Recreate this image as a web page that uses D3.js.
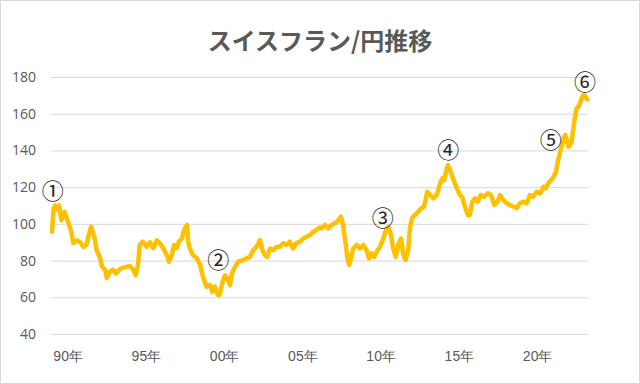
<!DOCTYPE html>
<html>
<head>
<meta charset="utf-8">
<script src="https://cdn.jsdelivr.net/npm/d3@7"></script>
<style>
  body { margin: 0; background: #fff; }
  svg { display: block; font-family: "Noto Sans CJK JP", "Noto Sans", sans-serif; }
</style>
</head>
<body>
<div id="chart"></div>
<script>
// decimal year and CHF/JPY rate
const years = [
  1989.0, 1989.1, 1989.2, 1989.3, 1989.45, 1989.6, 1989.8, 1990.05, 1990.25, 1990.36,
  1990.6, 1990.8, 1991.0, 1991.2, 1991.4, 1991.5, 1991.7, 1991.85, 1992.07, 1992.2,
  1992.4, 1992.5, 1992.7, 1992.9, 1993.1, 1993.3, 1993.5, 1993.8, 1993.98, 1994.2,
  1994.35, 1994.5, 1994.6, 1994.8, 1995.05, 1995.26, 1995.47, 1995.7, 1995.9, 1996.1,
  1996.33, 1996.48, 1996.65, 1996.8, 1996.97, 1997.1, 1997.3, 1997.4, 1997.54, 1997.64,
  1997.7, 1997.8, 1998.0, 1998.25, 1998.46, 1998.67, 1998.88, 1999.1, 1999.24, 1999.4,
  1999.6, 1999.7, 1999.9, 2000.05, 2000.2, 2000.37, 2000.5, 2000.7, 2000.9, 2001.2,
  2001.44, 2001.65, 2001.86, 2002.08, 2002.3, 2002.44, 2002.6, 2002.76, 2002.93, 2003.14,
  2003.36, 2003.57, 2003.78, 2004.0, 2004.2, 2004.4, 2004.6, 2004.85, 2005.06, 2005.27,
  2005.5, 2005.7, 2005.9, 2006.1, 2006.23, 2006.44, 2006.66, 2006.87, 2007.08, 2007.3,
  2007.47, 2007.6, 2007.77, 2007.9, 2008.0, 2008.1, 2008.25, 2008.47, 2008.68, 2008.9,
  2009.1, 2009.26, 2009.43, 2009.6, 2009.8, 2009.96, 2010.17, 2010.3, 2010.5, 2010.66,
  2010.8, 2010.96, 2011.13, 2011.3, 2011.45, 2011.6, 2011.77, 2011.87, 2012.0, 2012.2,
  2012.4, 2012.6, 2012.77, 2012.87, 2012.98, 2013.15, 2013.36, 2013.58, 2013.68, 2013.8,
  2013.94, 2014.07, 2014.2, 2014.3, 2014.4, 2014.58, 2014.75, 2014.92, 2015.07, 2015.2,
  2015.39, 2015.56, 2015.7, 2015.85, 2016.03, 2016.2, 2016.4, 2016.6, 2016.84, 2017.05,
  2017.26, 2017.47, 2017.63, 2017.84, 2018.05, 2018.26, 2018.5, 2018.7, 2018.9, 2019.1,
  2019.33, 2019.54, 2019.75, 2019.97, 2020.2, 2020.4, 2020.54, 2020.7, 2020.9, 2021.05,
  2021.2, 2021.34, 2021.5, 2021.6, 2021.7, 2021.8, 2021.9, 2022.0, 2022.1, 2022.2,
  2022.3, 2022.42, 2022.53, 2022.63, 2022.74, 2022.85, 2022.95, 2023.06, 2023.2
];
const rates = [
  95.7, 108, 110, 108, 110, 102, 106.6, 100.5, 95, 89.5,
  91, 90, 87.5, 88.5, 95.7, 98.4, 93, 85.7, 81.4, 76.7,
  75, 70.5, 74, 75, 73, 75, 76, 76.7, 77, 75,
  72, 78, 88.5, 90.3, 87.5, 90, 86.8, 91, 89.4, 86.8,
  83, 79.4, 83, 88.5, 86.8, 90.3, 92, 95.7, 98.4, 99.4,
  90.3, 86.8, 83, 81.4, 77.6, 70.5, 65.8, 66.7, 63, 65.8,
  61.2, 61.2, 68.5, 72, 70.5, 66.7, 73, 76.7, 79.4, 80.3,
  81.2, 82, 85.7, 87.5, 91.2, 85.7, 83, 82, 86.6, 85.7,
  87.5, 87.5, 89.4, 88.5, 90.3, 86.6, 89.4, 90.3, 92, 93,
  94, 95.7, 96.6, 98, 97.5, 99.4, 97.5, 99.4, 100.3, 102,
  103.9, 99.4, 88.5, 80.3, 77.6, 81.2, 86.6, 88.5, 86.6, 88.5,
  85.7, 81.2, 84, 82, 85.7, 87.5, 92, 95.7, 98.4, 94,
  86.6, 82, 88.5, 92, 83, 80.3, 86.6, 97.5, 103, 104.8,
  106.6, 108.5, 109.4, 113, 117.5, 115.7, 113.9, 115.7, 118.4, 122,
  124.8, 123.9, 129.3, 132, 130.2, 125.7, 122, 118.4, 115.7, 114.8,
  109.4, 104.8, 104.8, 112, 113.9, 112, 115.7, 114.8, 116.6, 115.7,
  110.3, 112, 115.7, 113, 111.2, 110.3, 109.4, 108.5, 111.2, 112,
  111.2, 115.7, 114.8, 117.5, 116.6, 120.2, 119.3, 122, 123.9, 125.7,
  128.4, 134.8, 140.2, 142.9, 146.6, 148.4, 145.7, 142, 142.9, 144.7,
  151.1, 158.4, 163, 163.9, 165.7, 168.4, 170.2, 169.6, 167.8
];
const yTicks = [40, 60, 80, 100, 120, 140, 160, 180];
const xTicks = [1990, 1995, 2000, 2005, 2010, 2015, 2020];
const markLabels = ["①", "②", "③", "④", "⑤", "⑥"];
const markYears = [1989.05, 1999.63, 2010.13, 2014.32, 2020.87, 2023.06];
const markRates = [119, 81.6, 104.3, 141.5, 146.9, 178.3];

const width = 640, height = 384;
const svg = d3.select("#chart").append("svg")
    .attr("width", width)
    .attr("height", height);

// outer border
svg.append("rect")
    .attr("x", 0.5).attr("y", 0.5)
    .attr("width", width - 1).attr("height", height - 1)
    .attr("fill", "#fff")
    .attr("stroke", "#d9d9d9");

const xScale = d3.scaleLinear([1989, 2023.25], [52, 588]);
const yScale = d3.scaleLinear([40, 180], [334, 77]);

// title
svg.append("text")
    .attr("x", 320).attr("y", 50)
    .attr("text-anchor", "middle")
    .attr("fill", "#595959")
    .attr("font-size", 24)
    .attr("font-weight", 700)
    .text("スイスフラン/円推移");

// y axis with gridlines
svg.append("g")
    .attr("transform", "translate(51,0)")
    .call(d3.axisLeft(yScale).tickValues(yTicks).tickSize(-537).tickPadding(15))
    .call(g => g.select(".domain").remove())
    .call(g => g.selectAll(".tick line").attr("stroke", "#d9d9d9"))
    .call(g => g.selectAll(".tick text")
        .attr("fill", "#595959")
        .attr("font-size", 14)
        .attr("font-family", "'Open Sans', sans-serif"));

// x axis labels
svg.append("g")
    .attr("transform", "translate(0,334)")
    .call(d3.axisBottom(xScale).tickValues(xTicks).tickSize(0).tickPadding(17)
        .tickFormat(d => String(d).slice(2) + "年"))
    .call(g => g.select(".domain").remove())
    .call(g => g.selectAll(".tick text")
        .attr("fill", "#595959")
        .attr("font-size", 14));

// rate line
const line = d3.line()
    .x((d, i) => xScale(years[i]))
    .y(d => yScale(d));

svg.append("path")
    .datum(rates)
    .attr("fill", "none")
    .attr("stroke", "#ffc000")
    .attr("stroke-width", 4.5)
    .attr("stroke-linejoin", "round")
    .attr("stroke-linecap", "round")
    .attr("d", line);

// circled number annotations
svg.append("g")
    .selectAll("text")
    .data(markLabels)
    .join("text")
    .attr("x", (d, i) => xScale(markYears[i]))
    .attr("y", (d, i) => yScale(markRates[i]))
    .attr("text-anchor", "middle")
    .attr("dominant-baseline", "central")
    .attr("fill", "#262626")
    .attr("font-size", 22)
    .text(d => d);
</script>
</body>
</html>
